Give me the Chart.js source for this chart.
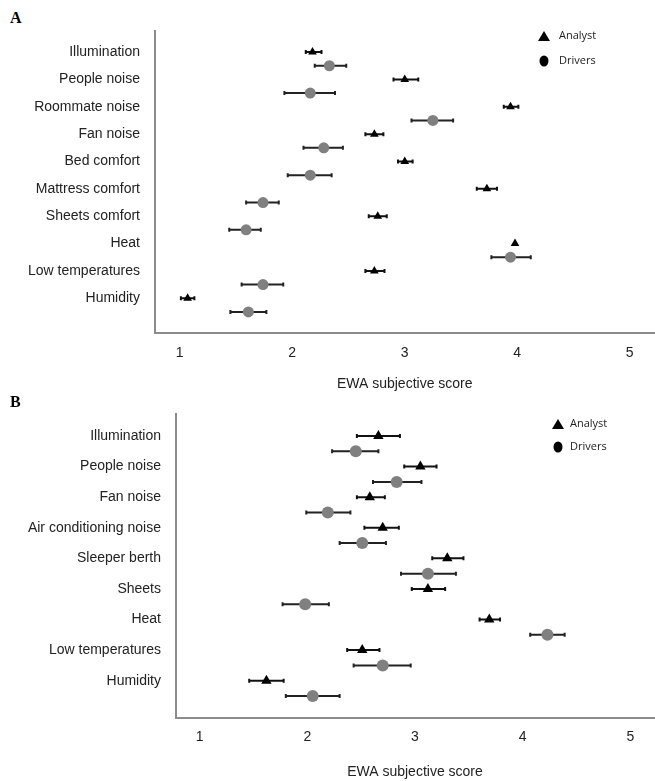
<!DOCTYPE html>
<html>
<head>
<meta charset="utf-8">
<script src="https://cdn.jsdelivr.net/npm/chart.js"></script>
<style>
  html, body { margin: 0; padding: 0; background: #fff; }
  body { width: 655px; height: 781px; position: relative; overflow: hidden; }
  .panel { position: absolute; left: 0; width: 660px; }
  .tag { position: absolute; left: 10px; font: bold 16px "Liberation Serif", serif; color: #000; }
</style>
</head>
<body>
<div class="tag" style="top:9px">A</div>
<div class="panel" style="top:0; height:394px"><canvas id="chartA"></canvas></div>
<div class="tag" style="top:393px">B</div>
<div class="panel" style="top:395px; height:386px"><canvas id="chartB"></canvas></div>
<script>
// Panel A
const categoriesA = ['Illumination', 'People noise', 'Roommate noise', 'Fan noise', 'Bed comfort',
    'Mattress comfort', 'Sheets comfort', 'Heat', 'Low temperatures', 'Humidity'];
const analystA    = [2.18, 3.00, 3.94, 2.73, 3.00, 3.73, 2.76, 3.98, 2.73, 1.07];
const analystALo  = [2.12, 2.90, 3.88, 2.65, 2.94, 3.64, 2.68, 3.98, 2.65, 1.01];
const analystAHi  = [2.26, 3.12, 4.01, 2.81, 3.07, 3.82, 2.84, 3.98, 2.82, 1.13];
const driversA    = [2.33, 2.16, 3.25, 2.28, 2.16, 1.74, 1.59, 3.94, 1.74, 1.61];
const driversALo  = [2.20, 1.93, 3.06, 2.10, 1.96, 1.59, 1.44, 3.77, 1.55, 1.45];
const driversAHi  = [2.48, 2.38, 3.43, 2.45, 2.35, 1.88, 1.72, 4.12, 1.92, 1.77];

// Panel B
const categoriesB = ['Illumination', 'People noise', 'Fan noise', 'Air conditioning noise',
    'Sleeper berth', 'Sheets', 'Heat', 'Low temperatures', 'Humidity'];
const analystB    = [2.66, 3.05, 2.58, 2.70, 3.30, 3.12, 3.69, 2.51, 1.62];
const analystBLo  = [2.46, 2.90, 2.46, 2.53, 3.16, 2.97, 3.60, 2.37, 1.46];
const analystBHi  = [2.86, 3.20, 2.72, 2.85, 3.45, 3.28, 3.79, 2.67, 1.78];
const driversB    = [2.45, 2.83, 2.19, 2.51, 3.12, 1.98, 4.23, 2.70, 2.05];
const driversBLo  = [2.23, 2.61, 1.99, 2.30, 2.87, 1.77, 4.07, 2.43, 1.80];
const driversBHi  = [2.66, 3.06, 2.40, 2.73, 3.38, 2.20, 4.39, 2.96, 2.30];

const xTicks = [1, 2, 3, 4, 5];
const axisTitle = 'EWA subjective score';
const seriesNames = ['Analyst', 'Drivers'];

const labelFont = { family: '"Liberation Sans", Arial, sans-serif', size: 14 };

// horizontal error bars with small caps, drawn under the markers
const errorBars = {
    id: 'errorBars',
    beforeDatasetsDraw(chart) {
        const { ctx, scales: { x, y } } = chart;
        ctx.save();
        chart.data.datasets.forEach(ds => {
            ctx.strokeStyle = ds.errColor;
            ctx.lineWidth = 2;
            ds.data.forEach((p, i) => {
                const lo = ds.errLo[i], hi = ds.errHi[i];
                if (hi - lo <= 0) return;
                const py = y.getPixelForValue(p.y);
                const x1 = x.getPixelForValue(lo);
                const x2 = x.getPixelForValue(hi);
                ctx.beginPath();
                ctx.moveTo(x1, py); ctx.lineTo(x2, py);
                ctx.moveTo(x1, py - 2); ctx.lineTo(x1, py + 2);
                ctx.moveTo(x2, py - 2); ctx.lineTo(x2, py + 2);
                ctx.stroke();
            });
        });
        ctx.restore();
    }
};

// small legend in the top right corner
const cornerLegend = {
    id: 'cornerLegend',
    afterDraw(chart, args, opts) {
        const { ctx } = chart;
        const mx = opts.x, tx = opts.x + opts.gap;
        ctx.save();
        ctx.fillStyle = '#000';
        // triangle
        let y0 = opts.y;
        ctx.beginPath();
        ctx.moveTo(mx, y0 - 5);
        ctx.lineTo(mx + 6, y0 + 5);
        ctx.lineTo(mx - 6, y0 + 5);
        ctx.closePath();
        ctx.fill();
        // circle
        let y1 = opts.y + opts.step;
        ctx.beginPath();
        ctx.ellipse(mx, y1, 4.5, 5.5, 0, 0, Math.PI * 2);
        ctx.fill();
        ctx.font = '11px "Open Sans", Lato, sans-serif';
        ctx.fillStyle = '#222';
        ctx.textBaseline = 'middle';
        ctx.fillText(seriesNames[0], tx, y0);
        ctx.fillText(seriesNames[1], tx, y1);
        ctx.restore();
    }
};

function makePanel(id, cats, an, anLo, anHi, dr, drLo, drHi, look) {
    const ctx = document.getElementById(id);
    return new Chart(ctx, {
        type: 'scatter',
        data: {
            datasets: [
                {
                    label: seriesNames[0],
                    data: an.map((v, i) => ({ x: v, y: i })),
                    errLo: anLo, errHi: anHi, errColor: '#111',
                    pointStyle: 'triangle',
                    pointRadius: look.triR,
                    backgroundColor: '#000',
                    borderColor: '#000',
                    borderWidth: 0
                },
                {
                    label: seriesNames[1],
                    data: dr.map((v, i) => ({ x: v, y: i + 0.5 })),
                    errLo: drLo, errHi: drHi, errColor: '#222',
                    pointStyle: 'circle',
                    pointRadius: look.dotR,
                    backgroundColor: '#808080',
                    borderColor: '#808080',
                    borderWidth: 0
                }
            ]
        },
        options: {
            responsive: true,
            maintainAspectRatio: false,
            animation: false,
            layout: { padding: { top: look.top, right: 0, bottom: 0, left: 0 } },
            plugins: {
                legend: { display: false },
                tooltip: { enabled: false },
                cornerLegend: look.legend
            },
            scales: {
                x: {
                    type: 'linear',
                    min: 0.78,
                    max: 5.22,
                    grid: { display: false },
                    border: { color: '#8c8c8c', width: 2 },
                    afterBuildTicks: s => { s.ticks = xTicks.map(v => ({ value: v })); },
                    afterFit: s => { s.height = look.xH; },
                    ticks: { color: '#222', font: labelFont, padding: look.tickPad },
                    title: {
                        display: true,
                        text: axisTitle,
                        color: '#222',
                        font: labelFont,
                        padding: { top: 4, bottom: look.titleB }
                    }
                },
                y: {
                    type: 'linear',
                    reverse: true,
                    min: look.yMin,
                    max: look.yMax,
                    grid: { display: false },
                    border: { color: '#8c8c8c', width: 2 },
                    afterBuildTicks: s => { s.ticks = cats.map((c, i) => ({ value: i })); },
                    afterFit: s => { s.width = look.yW; },
                    ticks: {
                        color: '#222',
                        font: labelFont,
                        padding: 7,
                        callback: v => cats[v]
                    }
                }
            }
        },
        plugins: [errorBars, cornerLegend]
    });
}

makePanel('chartA', categoriesA, analystA, analystALo, analystAHi, driversA, driversALo, driversAHi, {
    top: 31, xH: 61, yW: 155, yMin: -0.77, yMax: 10.27, titleB: 1, tickPad: 4,
    triR: 5, dotR: 5.5,
    legend: { x: 544, y: 36, step: 25, gap: 15 }
});

makePanel('chartB', categoriesB, analystB, analystBLo, analystBHi, driversB, driversBLo, driversBHi, {
    top: 19, xH: 63, yW: 176, yMin: -0.72, yMax: 9.22, titleB: 0, tickPad: 3,
    triR: 6, dotR: 6,
    legend: { x: 558, y: 29, step: 23, gap: 12 }
});
</script>
</body>
</html>
